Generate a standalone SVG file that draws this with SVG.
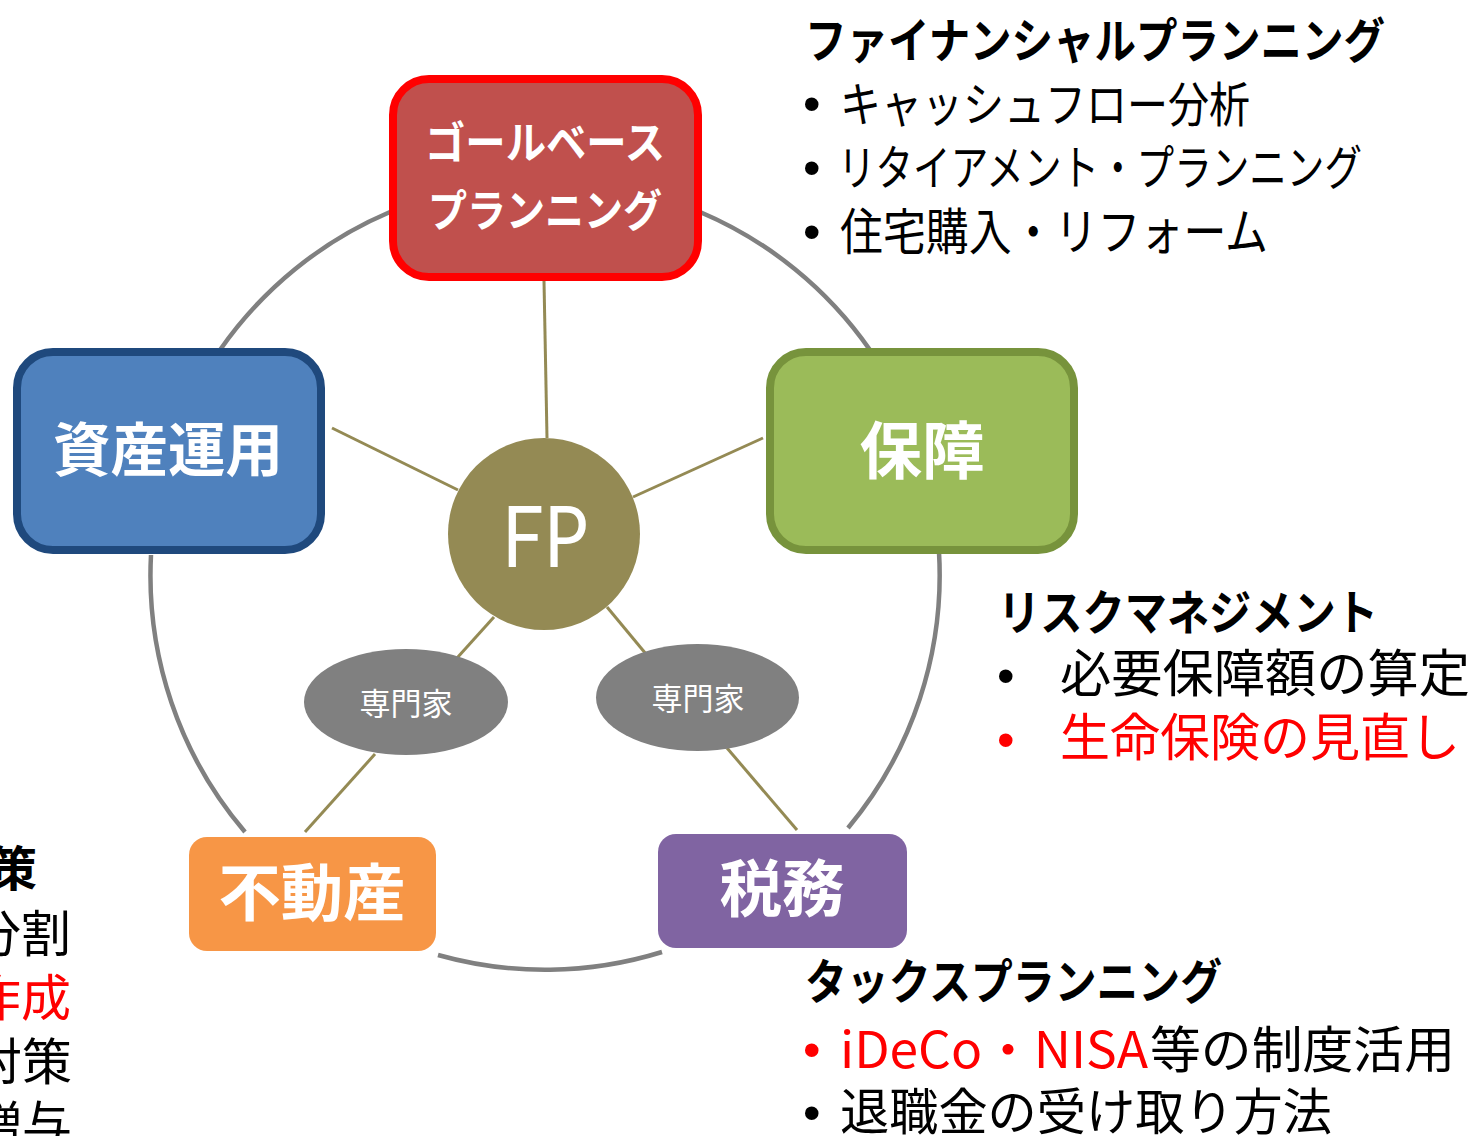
<svg xmlns="http://www.w3.org/2000/svg" width="1477" height="1136" viewBox="0 0 1477 1136">
<style>
.t{font-family:"Noto Sans CJK JP","Noto Sans",sans-serif;}
.b{font-weight:700;}
.w{fill:#FFFFFF;}
.k{fill:#000000;}
.r{fill:#FF0000;}
.bul{font-family:"Liberation Sans",sans-serif;font-size:50px;}
.arc{fill:none;stroke:#808080;stroke-width:4.5;}
.spoke{fill:none;stroke:#948A54;stroke-width:3;}
</style>
<rect width="1477" height="1136" fill="#FFFFFF"/>
<g id="connectors">
  <path class="arc" d="M390,212 A395,395 0 0 0 220,350"/>
  <path class="arc" d="M700,212 A395,395 0 0 1 870,350"/>
  <path class="arc" d="M939,552 A395,395 0 0 1 848,828"/>
  <path class="arc" d="M662,952 A395,395 0 0 1 438,955"/>
  <path class="arc" d="M245,832 A395,395 0 0 1 151,555"/>
  <line class="spoke" x1="544" y1="281" x2="547" y2="438"/>
  <line class="spoke" x1="332" y1="428" x2="458" y2="490"/>
  <line class="spoke" x1="763" y1="438" x2="633" y2="497"/>
  <line class="spoke" x1="494" y1="617" x2="457" y2="658"/>
  <line class="spoke" x1="375" y1="754" x2="305" y2="832"/>
  <line class="spoke" x1="607" y1="607" x2="646" y2="654"/>
  <line class="spoke" x1="727" y1="748" x2="797" y2="830"/>
</g>
<g id="node-goal">
  <rect x="393" y="79" width="305" height="198" rx="36" fill="#C0504D" stroke="#FF0000" stroke-width="8"/>
  <text class="t b w" x="545" y="159" font-size="44" text-anchor="middle" textLength="240" lengthAdjust="spacingAndGlyphs">ゴールベース</text>
  <text class="t b w" x="545" y="227" font-size="44" text-anchor="middle" textLength="234" lengthAdjust="spacingAndGlyphs">プランニング</text>
</g>
<g id="node-asset">
  <rect x="17" y="352" width="304" height="198" rx="36" fill="#4F81BD" stroke="#1F497D" stroke-width="8"/>
  <text class="t b w" x="168" y="471" font-size="58" text-anchor="middle" textLength="230" lengthAdjust="spacingAndGlyphs">資産運用</text>
</g>
<g id="node-hoshou">
  <rect x="770" y="352" width="304" height="198" rx="36" fill="#9BBB59" stroke="#77933C" stroke-width="8"/>
  <text class="t b w" x="922" y="474" font-size="62" text-anchor="middle" textLength="125" lengthAdjust="spacingAndGlyphs">保障</text>
</g>
<g id="node-fp">
  <circle cx="544" cy="534" r="96" fill="#948A54"/>
  <text x="545" y="567" font-family="Lato,'Open Sans',sans-serif" font-size="86" fill="#FFFFFF" text-anchor="middle" textLength="86" lengthAdjust="spacingAndGlyphs">FP</text>
</g>
<g id="node-expert-left">
  <ellipse cx="406" cy="702" rx="102" ry="53" fill="#808080"/>
  <text class="t w" x="406" y="715" font-size="31" text-anchor="middle" textLength="93" lengthAdjust="spacingAndGlyphs">専門家</text>
</g>
<g id="node-expert-right">
  <ellipse cx="697.5" cy="697.5" rx="101.5" ry="53.5" fill="#808080"/>
  <text class="t w" x="698" y="710" font-size="31" text-anchor="middle" textLength="93" lengthAdjust="spacingAndGlyphs">専門家</text>
</g>
<g id="node-fudousan">
  <rect x="189" y="837" width="247" height="114" rx="18" fill="#F79646"/>
  <text class="t b w" x="312" y="916" font-size="62" text-anchor="middle" textLength="187" lengthAdjust="spacingAndGlyphs">不動産</text>
</g>
<g id="node-zeimu">
  <rect x="658" y="834" width="249" height="114" rx="18" fill="#8064A2"/>
  <text class="t b w" x="782" y="912" font-size="62" text-anchor="middle" textLength="125" lengthAdjust="spacingAndGlyphs">税務</text>
</g>
<g id="text-fp">
  <text class="t b k" x="805" y="58" font-size="48" textLength="580" lengthAdjust="spacingAndGlyphs">ファイナンシャルプランニング</text>
  <text class="bul k" x="803" y="121">•</text>
  <text class="t k" x="840" y="122" font-size="48" textLength="410" lengthAdjust="spacingAndGlyphs">キャッシュフロー分析</text>
  <text class="bul k" x="803" y="185">•</text>
  <text class="t k" x="838" y="185" font-size="48" textLength="524" lengthAdjust="spacingAndGlyphs">リタイアメント・プランニング</text>
  <text class="bul k" x="803" y="249">•</text>
  <text class="t k" x="840" y="250" font-size="50" textLength="428" lengthAdjust="spacingAndGlyphs">住宅購入・リフォーム</text>
</g>
<g id="text-risk">
  <text class="t b k" x="998" y="630" font-size="48" textLength="380" lengthAdjust="spacingAndGlyphs">リスクマネジメント</text>
  <text class="bul k" x="997" y="693">•</text>
  <text class="t k" x="1060" y="692" font-size="51" textLength="410" lengthAdjust="spacingAndGlyphs">必要保障額の算定</text>
  <text class="bul r" x="997" y="757">•</text>
  <text class="t r" x="1060" y="756" font-size="51" textLength="400" lengthAdjust="spacingAndGlyphs">生命保険の見直し</text>
</g>
<g id="text-tax">
  <text class="t b k" x="805" y="999" font-size="48" textLength="417" lengthAdjust="spacingAndGlyphs">タックスプランニング</text>
  <text class="bul r" x="803" y="1067">•</text>
  <text class="t r" x="840" y="1068" font-size="50" textLength="308" lengthAdjust="spacingAndGlyphs">iDeCo・NISA</text>
  <text class="t k" x="1150" y="1068" font-size="50" textLength="305" lengthAdjust="spacingAndGlyphs">等の制度活用</text>
  <text class="bul k" x="803" y="1130">•</text>
  <text class="t k" x="840" y="1130" font-size="50" textLength="492" lengthAdjust="spacingAndGlyphs">退職金の受け取り方法</text>
</g>
<g id="text-left">
  <text class="t b k" x="37" y="886" font-size="48" text-anchor="end">策</text>
  <text class="t k" x="71" y="952" font-size="50" text-anchor="end">分割</text>
  <text class="t r" x="71" y="1016" font-size="50" text-anchor="end">作成</text>
  <text class="t k" x="72" y="1080" font-size="50" text-anchor="end">対策</text>
  <text class="t k" x="72" y="1143" font-size="50" text-anchor="end">贈与</text>
</g>
</svg>
